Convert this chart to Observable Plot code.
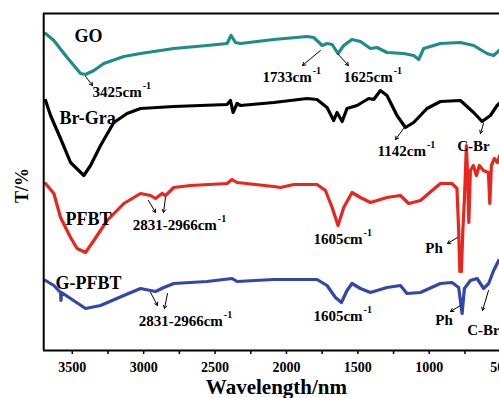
<!DOCTYPE html>
<html><head><meta charset="utf-8">
<script src="https://cdn.jsdelivr.net/npm/d3@7"></script>
<script src="https://cdn.jsdelivr.net/npm/@observablehq/plot@0.6"></script>
<style>
html,body{margin:0;padding:0;background:#fff;}
#chart svg{overflow:hidden;display:block;}
</style></head><body><div id="chart"></div>
<script>
// ---- data (wavenumber cm-1, offset transmittance in arbitrary units) ----
const waveGO = [3687,3629,3536,3442,3407,3349,3279,3139,3022,2789,2556,2416,2388,2357,2322,2089,1856,1809,1750,1716,1680,1639,1599,1541,1482,1412,1366,1296,1179,1109,1074,1039,922,782,689,596,549,502];
const tGO    = [317,310,293,277,276,280,287,294,297,302,305,307,315,308,307,311,314,313,305,307,306,297,305,311,309,302,303,298,297,295,291,302,307,308,305,297,295,301];

const waveBrGra = [3687,3652,3582,3512,3419,3372,3302,3209,3116,3022,2789,2416,2392,2374,2346,2322,2089,1856,1786,1716,1669,1646,1610,1576,1506,1424,1389,1342,1296,1226,1167,1109,1016,922,782,689,630,572,525,502];
const tBrGra    = [250,235,212,188,175,185,205,228,237,242,244,246,250,238,247,245,248,252,251,243,230,238,229,242,245,252,251,260,255,235,223,228,242,249,250,238,229,235,245,248];

const wavePFBT = [3687,3629,3582,3512,3466,3407,3349,3256,3139,3022,2952,2917,2871,2847,2789,2672,2416,2381,2346,2089,2042,1949,1786,1727,1680,1639,1599,1541,1482,1412,1296,1202,1144,1062,922,841,806,794,786,775,765,754,740,730,723,712,691,670,649,621,586,576,565,544,523,506];
const tPFBT    = [167,157,133,113,102,98,110,130,147,157,155,152,157,155,163,165,167,171,168,164,163,166,166,160,143,125,143,158,153,148,153,155,147,150,167,167,162,120,79,79,120,150,205,170,128,180,185,175,185,180,178,147,185,192,188,195];

const waveGPFBT = [3687,3629,3582,3579,3575,3512,3407,3302,3139,3022,2952,2917,2859,2789,2556,2381,2346,2089,1786,1716,1657,1615,1576,1541,1482,1412,1296,1202,1156,1062,922,841,794,770,754,712,665,619,584,549,514];
const tGPFBT    = [70,65,58,50,58,52,42,45,55,62,60,59,63,67,69,72,69,71,71,65,53,48,60,67,62,58,63,65,57,58,67,68,63,37,62,70,72,62,67,80,90];

const seriesNames  = ["GO","Br-Gra","PFBT","G-PFBT"];
const seriesColors = ["#1e8c87","#000000","#e8261f","#3346aa"];
const seriesLabelWave = [3386,3393,3386,3386];
const seriesLabelT    = [314,232,131,67];

const xTicks = [3500,3000,2500,2000,1500,1000,500];
const xMinorTicks = [3250,2750,2250,1750,1250,750];

// peak annotations
const peakText = ["3425cm","1733cm","1625cm","1142cm","C-Br","2831-2966cm","1605cm","Ph","2831-2966cm","1605cm","Ph","C-Br"];
const peakSup  = [true,true,true,true,false,true,true,false,true,true,false,false];
const peakWave = [3358,2167,1600,1362,804,3077,1811,1028,3035,1811,958,734];
const peakT    = [258,273,273,199,204,125,111,102,29,34,30,20];

// arrows (from curve to label)
const arrowW1 = [3407,1762,1643,1180,620,2966,2847,802,2952,2833,781,585];
const arrowT1 = [274,300,297,222,227,150,153,113,58,57,45,60];
const arrowW2 = [3358,1888,1566,1236,641,2917,2861,872,2903,2854,851,627];
const arrowT2 = [265,285,285,211,217,138,138,107,45,42,39,40];

// ---- build tables ----
const waves = [waveGO, waveBrGra, wavePFBT, waveGPFBT];
const trans = [tGO, tBrGra, tPFBT, tGPFBT];
const series = seriesNames.map((name, s) => waves[s].map((w, i) => ({name, w, t: trans[s][i]})));
const seriesLabels = seriesNames.map((name, i) => ({name, w: seriesLabelWave[i], t: seriesLabelT[i]}));
const peaks = peakText.map((text, i) => ({text, sup: peakSup[i], w: peakWave[i], t: peakT[i]}));
const arrows = arrowW1.map((w1, i) => ({w1, t1: arrowT1[i], w2: arrowW2[i], t2: arrowT2[i]}));

const FONT = "Liberation Serif";
const ctx = document.createElement("canvas").getContext("2d");
ctx.font = `bold 15px "${FONT}"`;

const supMarks = peaks.filter(p => p.sup).map(p =>
  Plot.text([p], {x: "w", y: "t", text: () => "-1", textAnchor: "start",
    dx: ctx.measureText(p.text).width + 1, dy: -7, fontSize: 10, fontWeight: "bold", fill: "black"}));

const chart = Plot.plot({
  width: 499,
  height: 398,
  marginTop: 13,
  marginBottom: 48,
  marginLeft: 43,
  marginRight: 0,
  style: {fontFamily: FONT, background: "white"},
  x: {domain: [3700, 400], range: [43.2, 43.2 + 3300 * 0.1428]},
  y: {domain: [0, 337], range: [350, 13], axis: null},
  marks: [
    ...series.map((d, s) => Plot.line(d, {x: "w", y: "t", stroke: seriesColors[s], strokeWidth: 3.2, curve: "linear"})),
    Plot.ruleX([3700], {stroke: "black", strokeWidth: 2}),
    Plot.ruleY([0, 337], {stroke: "black", strokeWidth: 2}),
    Plot.axisX({ticks: xTicks, tickSize: 4, tickPadding: 8, fontSize: 14, fontWeight: "bold",
      tickFormat: d3.format("d"), label: null, strokeWidth: 1.5}),
    Plot.axisX({ticks: xMinorTicks, tickSize: 4, tickFormat: () => "", label: null, strokeWidth: 1.5}),
    Plot.text(seriesLabels, {x: "w", y: "t", text: "name", fontSize: 18, fontWeight: "bold", fill: "black"}),
    Plot.text(peaks, {x: "w", y: "t", text: "text", textAnchor: "start", fontSize: 15, fontWeight: "bold", fill: "black"}),
    ...supMarks,
    Plot.arrow(arrows, {x1: "w1", y1: "t1", x2: "w2", y2: "t2", stroke: "black", strokeWidth: 1, headLength: 5}),
    Plot.text(["Wavelength/nm"], {x: () => 2070, y: () => -37, text: d => d, fontSize: 21, fontWeight: "bold", fill: "black"}),
    Plot.text(["T/%"], {x: () => 3853, y: () => 165, text: d => d, rotate: -90, fontSize: 18, fontWeight: "bold", fill: "black"})
  ]
});
document.getElementById("chart").appendChild(chart);
</script>
</body></html>
